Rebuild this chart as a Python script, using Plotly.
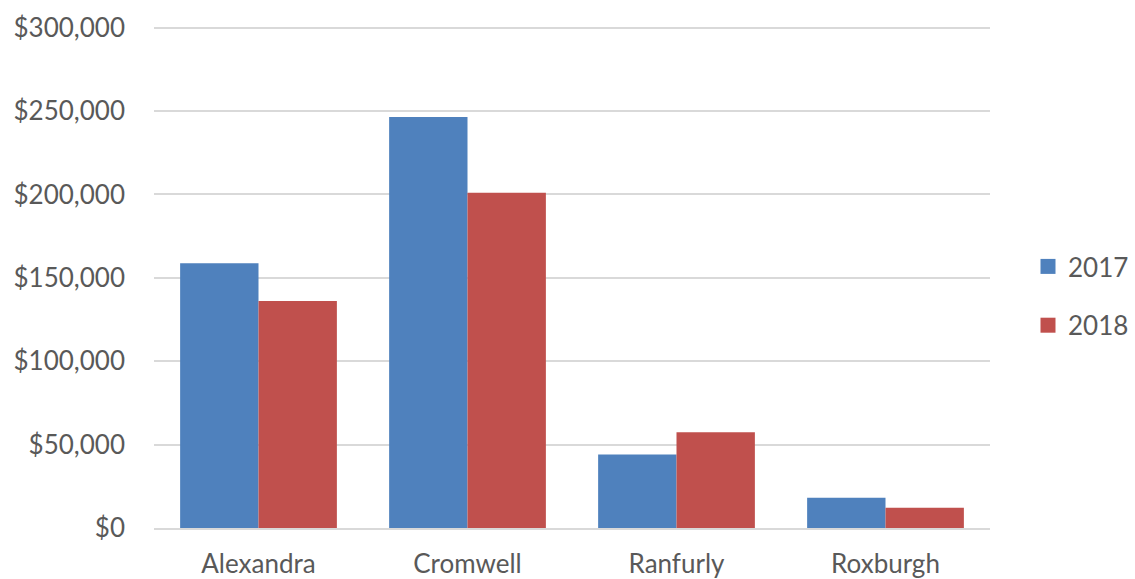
import plotly.graph_objects as go

categories = ["Alexandra", "Cromwell", "Ranfurly", "Roxburgh"]
series_names = ["2017", "2018"]
values_2017 = [158700, 246500, 44000, 18200]
values_2018 = [136100, 201000, 57400, 12200]
colors = ["#4F81BD", "#C0504D"]
y_ticks = [0, 50000, 100000, 150000, 200000, 250000, 300000]
y_tick_labels = ["$0", "$50,000", "$100,000", "$150,000", "$200,000", "$250,000", "$300,000"]

font_family = "Lato, 'Open Sans', sans-serif"
text_color = "#595959"

fig = go.Figure()
for name, vals, col in zip(series_names, [values_2017, values_2018], colors):
    fig.add_trace(go.Bar(x=categories, y=vals, name=name, marker=dict(color=col, line=dict(width=0)),
                         showlegend=False))
    fig.add_trace(go.Scatter(x=[None], y=[None], mode="markers", name=name, legendgroup=name,
                             marker=dict(symbol="square", size=15, color=col)))

fig.update_layout(
    width=1135, height=579,
    margin=dict(l=154, r=145, t=26, b=51, pad=0),
    paper_bgcolor="white", plot_bgcolor="white",
    barmode="group", bargap=0.25, bargroupgap=0,
    font=dict(family=font_family, size=26, color=text_color),
    showlegend=True,
    legend=dict(xref="container", yref="container", x=1028/1135, xanchor="left",
                y=1 - 296/579, yanchor="middle", tracegroupgap=22,
                font=dict(size=26, color=text_color), bgcolor="rgba(0,0,0,0)"),
)
fig.update_yaxes(range=[0, 301000], tickvals=y_ticks, ticktext=y_tick_labels,
                 showgrid=True, gridcolor="#D9D9D9", gridwidth=2, zeroline=False,
                 showline=False, ticks="", ticklabelstandoff=28, automargin=False,
                 tickfont=dict(size=26, color=text_color))
fig.update_xaxes(showline=True, linecolor="#D9D9D9", linewidth=2, ticks="",
                 ticklabelstandoff=12, automargin=False,
                 tickfont=dict(size=26, color=text_color))

fig.write_html("out.html")
